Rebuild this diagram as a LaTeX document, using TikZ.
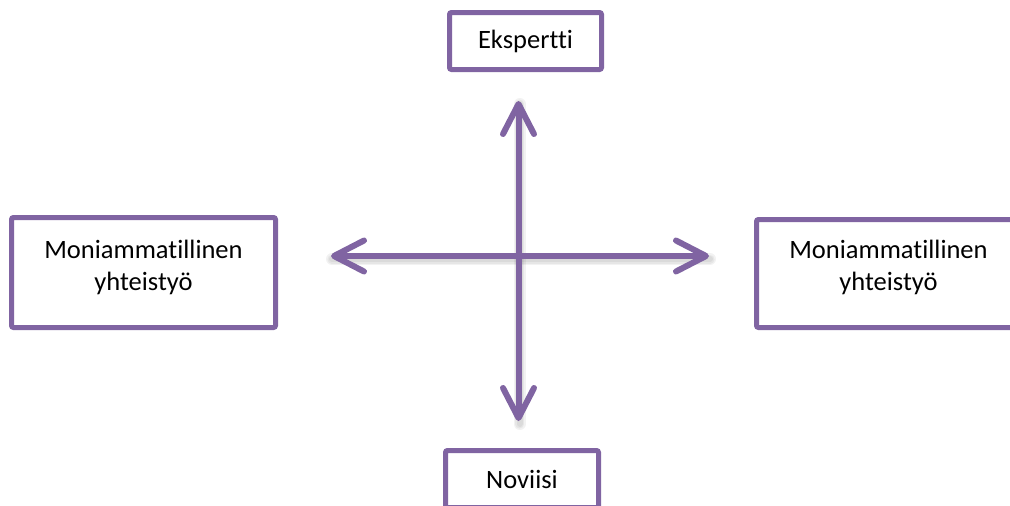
\documentclass[tikz,border=0pt]{standalone}
\usepackage{fontspec}
\setmainfont[Ligatures=CommonOff]{Carlito}
\usetikzlibrary{arrows.meta}
\definecolor{lilac}{HTML}{8064A2}
\begin{document}
\begin{tikzpicture}[x=1pt,y=-1pt,
  box/.style={draw=lilac, line width=5pt, rounded corners=2pt, fill=white, inner sep=0pt},
  boxtext/.style={align=center, font=\fontsize{26.5}{32}\selectfont, inner sep=0pt},
  axis/.style={draw=lilac, line width=6pt,
    {Straight Barb[length=30pt,width=31pt,round]}-{Straight Barb[length=30pt,width=31pt,round]}},
  axisshadow/.style={draw=black, opacity=0.05, line cap=round},
]
\useasboundingbox (0,0) rectangle (1010,506);
\clip (0,0) rectangle (1010,506);

% end points of the two axes
\coordinate (top) at (518.5,101);
\coordinate (bottom) at (518.5,421);
\coordinate (left) at (331,256);
\coordinate (right) at (709,256);

% soft shadow under the axes
\foreach \w in {12,9,6} {
  \draw[axisshadow, line width=\w pt] ([shift={(1,3)}]top) -- ([shift={(1,3)}]bottom);
  \draw[axisshadow, line width=\w pt] ([shift={(1,3)}]left) -- ([shift={(1,3)}]right);
}

% the two double-headed axes
\draw[axis] (bottom) -- (top);
\draw[axis] (left) -- (right);

% labelled boxes
\node[box, minimum width=152pt, minimum height=57pt] (expert) at (525.5,41) {};
\node[boxtext] (experttext) at (expert.center) {Ekspertti};
\node[box, minimum width=153pt, minimum height=57pt] (novice) at (522,479) {};
\node[boxtext] (novicetext) at (novice.center) {Noviisi};
\node[box, minimum width=264pt, minimum height=110pt] (west) at (143.5,272.5) {};
\node[boxtext] (westtext) at ([yshift=5pt]west.center) {Moniammatillinen\\yhteistyö};
\node[box, minimum width=264pt, minimum height=108pt] (east) at (888.5,273.5) {};
\node[boxtext] (easttext) at ([yshift=6pt]east.center) {Moniammatillinen\\yhteistyö};
\end{tikzpicture}
\end{document}
